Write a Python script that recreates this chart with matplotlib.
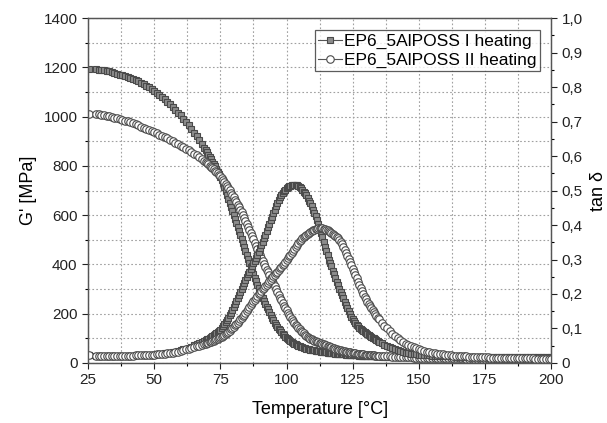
import numpy as np
import matplotlib
matplotlib.use("Agg")
import matplotlib.pyplot as plt
from matplotlib.ticker import MultipleLocator, FuncFormatter

plt.rcParams['font.family'] = ['Liberation Sans', 'DejaVu Sans']

# Temperature [°C]: 25.5, then 28..69 (1 °C), 69.5..135 (0.5 °C), 136..200 (1 °C)
temperature = ([25.5] + list(range(28, 70))
               + [69.5 + 0.5 * i for i in range(132)]
               + list(range(136, 201)))

# Storage modulus G' [MPa], I heating (squares)
g_first = [
    1193,
    1192, 1191, 1190,
    1188, 1186, 1184, 1181, 1178, 1175, 1171, 1168, 1164, 1160,
    1156, 1152, 1147, 1143, 1138, 1132, 1126, 1119, 1112, 1105,
    1097, 1088, 1079, 1070, 1060, 1050, 1040, 1029, 1017, 1005,
    992, 979, 965, 950, 935, 920, 905, 889, 872,
    # 69.5 .. 135 step 0.5
    864, 855, 846, 837, 828, 818, 808, 798, 788, 777,
    766, 755, 743, 730, 714, 698, 682, 665, 649, 633,
    617, 600, 584, 568, 552, 535, 518, 502, 486, 470,
    453, 437, 421, 405, 390, 375, 360, 345, 331, 317,
    303, 290, 277, 264, 252, 240, 228, 217, 206, 195,
    184, 174, 164, 155, 147, 139, 132, 125, 118, 112,
    106, 101, 96, 92, 88, 85, 81, 78, 75, 72,
    69, 67, 65, 63, 61, 60, 58, 57, 55, 54,
    53, 52, 51, 50, 49, 48, 47, 46, 45, 44,
    43, 43, 42, 42, 41, 40, 39, 39, 38, 38,
    37, 37, 36, 36, 35, 35, 34, 34, 33, 33,
    33, 33, 32, 32, 31, 31, 30, 30, 30, 30,
    29, 29, 29, 29, 28, 28, 28, 28, 27, 27,
    27, 27,
    # 136 .. 200
    26, 26, 26, 25, 25,
    25, 24, 24, 24, 23, 23, 23, 22, 22, 22,
    22, 21, 21, 21, 21, 21, 20, 20, 20, 20,
    20, 20, 19, 19, 19, 19, 19, 19, 19, 18,
    18, 18, 18, 18, 18, 18, 18, 17, 17, 17,
    17, 17, 17, 17, 17, 17, 17, 17, 16, 16,
    16, 16, 16, 16, 16, 16, 16, 16, 16, 16,
]

# Storage modulus G' [MPa], II heating (circles)
g_second = [
    1011,
    1010, 1009, 1008,
    1006, 1003, 1001, 998, 996, 993, 990, 987, 984, 981,
    977, 973, 969, 965, 960, 956, 951, 947, 942, 937,
    932, 927, 922, 918, 913, 907, 901, 895, 889, 882,
    876, 870, 863, 857, 850, 843, 835, 827, 819,
    # 69.5 .. 135 step 0.5
    815, 810, 806, 801, 796, 791, 786, 781, 776, 770,
    764, 758, 751, 743, 735, 727, 719, 710, 701, 692,
    683, 673, 663, 653, 643, 633, 623, 612, 601, 590,
    578, 566, 554, 541, 528, 515, 502, 489, 476, 463,
    450, 437, 425, 413, 401, 390, 379, 368, 357, 346,
    335, 324, 312, 300, 288, 276, 265, 254, 243, 233,
    223, 213, 204, 195, 186, 178, 170, 162, 155, 148,
    142, 136, 130, 125, 120, 115, 110, 106, 102, 99,
    96, 93, 90, 88, 85, 83, 81, 79, 77, 75,
    73, 71, 69, 67, 65, 63, 61, 59, 57, 56,
    54, 53, 51, 50, 48, 47, 46, 45, 44, 43,
    42, 41, 40, 39, 38, 37, 36, 36, 35, 35,
    34, 34, 33, 33, 32, 32, 31, 31, 30, 30,
    29, 29,
    # 136 .. 200
    29, 28, 27, 27, 26,
    26, 25, 25, 24, 24, 23, 23, 22, 22, 22,
    21, 21, 21, 21, 20, 20, 20, 20, 20, 20,
    19, 19, 19, 19, 19, 19, 19, 18, 18, 18,
    18, 18, 18, 18, 18, 18, 17, 17, 17, 17,
    17, 17, 17, 17, 16, 16, 16, 16, 16, 16,
    16, 16, 16, 15, 15, 15, 15, 15, 15, 15,
]

# tan delta, I heating (squares)
tan_first = [
    0.022,
    0.021, 0.021, 0.020,
    0.020, 0.020, 0.020, 0.020, 0.020, 0.020, 0.020, 0.021, 0.021, 0.021,
    0.021, 0.021, 0.022, 0.022, 0.022, 0.022, 0.023, 0.023, 0.024, 0.024,
    0.025, 0.026, 0.027, 0.028, 0.029, 0.030, 0.032, 0.033, 0.035, 0.037,
    0.039, 0.041, 0.044, 0.047, 0.051, 0.054, 0.057, 0.061, 0.064,
    # 69.5 .. 135 step 0.5
    0.066, 0.068, 0.070, 0.073, 0.075, 0.078, 0.080, 0.083, 0.086, 0.089,
    0.092, 0.095, 0.100, 0.106, 0.112, 0.118, 0.124, 0.130, 0.138, 0.146,
    0.154, 0.163, 0.171, 0.180, 0.188, 0.197, 0.206, 0.215, 0.223, 0.232,
    0.240, 0.249, 0.257, 0.265, 0.273, 0.281, 0.289, 0.297, 0.305, 0.314,
    0.323, 0.332, 0.342, 0.352, 0.362, 0.372, 0.382, 0.393, 0.403, 0.414,
    0.424, 0.435, 0.445, 0.455, 0.464, 0.473, 0.481, 0.488, 0.494, 0.499,
    0.503, 0.507, 0.510, 0.512, 0.514, 0.515, 0.516, 0.516, 0.516, 0.515,
    0.513, 0.510, 0.506, 0.502, 0.497, 0.492, 0.486, 0.479, 0.471, 0.463,
    0.454, 0.445, 0.435, 0.425, 0.414, 0.403, 0.391, 0.378, 0.364, 0.350,
    0.337, 0.325, 0.312, 0.300, 0.290, 0.280, 0.268, 0.257, 0.246, 0.235,
    0.225, 0.215, 0.205, 0.196, 0.187, 0.178, 0.169, 0.160, 0.151, 0.142,
    0.134, 0.127, 0.121, 0.115, 0.110, 0.106, 0.102, 0.098, 0.095, 0.092,
    0.089, 0.086, 0.083, 0.081, 0.078, 0.076, 0.073, 0.071, 0.068, 0.066,
    0.063, 0.061,
    # 136 .. 200
    0.057, 0.053, 0.050, 0.046, 0.043,
    0.040, 0.037, 0.034, 0.032, 0.030, 0.029, 0.027, 0.026, 0.025, 0.024,
    0.023, 0.023, 0.022, 0.022, 0.021, 0.021, 0.020, 0.020, 0.020, 0.019,
    0.019, 0.019, 0.019, 0.018, 0.018, 0.018, 0.018, 0.018, 0.018, 0.017,
    0.017, 0.017, 0.017, 0.017, 0.017, 0.017, 0.017, 0.017, 0.017, 0.017,
    0.017, 0.017, 0.017, 0.016, 0.016, 0.016, 0.016, 0.016, 0.016, 0.016,
    0.016, 0.016, 0.016, 0.016, 0.016, 0.016, 0.016, 0.016, 0.016, 0.016,
]

# tan delta, II heating (circles)
tan_second = [
    0.022,
    0.021, 0.021, 0.020,
    0.020, 0.020, 0.020, 0.020, 0.020, 0.020, 0.020, 0.021, 0.021, 0.021,
    0.021, 0.021, 0.022, 0.022, 0.022, 0.022, 0.023, 0.023, 0.024, 0.024,
    0.025, 0.025, 0.026, 0.027, 0.028, 0.029, 0.030, 0.032, 0.033, 0.035,
    0.037, 0.039, 0.041, 0.043, 0.046, 0.048, 0.050, 0.053, 0.055,
    # 69.5 .. 135 step 0.5
    0.056, 0.058, 0.059, 0.061, 0.062, 0.064, 0.065, 0.067, 0.068, 0.070,
    0.072, 0.074, 0.076, 0.079, 0.082, 0.085, 0.088, 0.091, 0.094, 0.098,
    0.101, 0.105, 0.109, 0.113, 0.117, 0.122, 0.126, 0.131, 0.135, 0.140,
    0.145, 0.150, 0.156, 0.162, 0.168, 0.174, 0.179, 0.184, 0.189, 0.194,
    0.199, 0.204, 0.209, 0.214, 0.218, 0.223, 0.227, 0.232, 0.237, 0.242,
    0.247, 0.252, 0.256, 0.261, 0.265, 0.270, 0.274, 0.279, 0.283, 0.288,
    0.293, 0.298, 0.303, 0.309, 0.314, 0.320, 0.325, 0.331, 0.336, 0.342,
    0.348, 0.353, 0.358, 0.362, 0.366, 0.369, 0.372, 0.375, 0.378, 0.380,
    0.383, 0.385, 0.387, 0.388, 0.389, 0.390, 0.390, 0.390, 0.390, 0.389,
    0.388, 0.387, 0.385, 0.383, 0.381, 0.378, 0.375, 0.372, 0.369, 0.365,
    0.361, 0.357, 0.352, 0.345, 0.337, 0.329, 0.320, 0.311, 0.302, 0.292,
    0.283, 0.273, 0.264, 0.254, 0.245, 0.235, 0.226, 0.217, 0.208, 0.200,
    0.192, 0.185, 0.178, 0.172, 0.165, 0.159, 0.153, 0.147, 0.141, 0.136,
    0.131, 0.126,
    # 136 .. 200
    0.117, 0.108, 0.100, 0.092, 0.084,
    0.077, 0.071, 0.066, 0.061, 0.056, 0.052, 0.048, 0.045, 0.042, 0.039,
    0.037, 0.035, 0.033, 0.031, 0.029, 0.028, 0.027, 0.026, 0.025, 0.024,
    0.023, 0.022, 0.021, 0.021, 0.020, 0.020, 0.019, 0.019, 0.018, 0.018,
    0.017, 0.017, 0.017, 0.016, 0.016, 0.016, 0.015, 0.015, 0.015, 0.015,
    0.014, 0.014, 0.014, 0.014, 0.014, 0.013, 0.013, 0.013, 0.013, 0.013,
    0.013, 0.013, 0.013, 0.012, 0.012, 0.012, 0.012, 0.012, 0.012, 0.012,
]

label_first = "EP6_5AlPOSS I heating"
label_second = "EP6_5AlPOSS II heating"

fig = plt.figure(figsize=(6.07, 4.23), dpi=100)
ax = fig.add_axes([0.145, 0.142, 0.763, 0.815])
ax2 = ax.twinx()

sq_style = dict(marker='s', markersize=4.8, markerfacecolor='#8c8c8c',
                markeredgecolor='#4a4a4a', markeredgewidth=0.8,
                color='#555555', linewidth=0.8)
ci_style = dict(marker='o', markersize=5.4, markerfacecolor='white',
                markeredgecolor='#4a4a4a', markeredgewidth=0.8,
                color='#555555', linewidth=0.8)

h1, = ax.plot(temperature, g_first, label=label_first, **sq_style)
h2, = ax.plot(temperature, g_second, label=label_second, **ci_style)
ax2.plot(temperature, tan_first, **sq_style)
ax2.plot(temperature, tan_second, **ci_style)

ax.set_xlim(25, 200)
ax.set_ylim(0, 1400)
ax2.set_ylim(0, 1.0)

ax.xaxis.set_major_locator(MultipleLocator(25))
ax.xaxis.set_minor_locator(MultipleLocator(12.5))
ax.yaxis.set_major_locator(MultipleLocator(200))
ax.yaxis.set_minor_locator(MultipleLocator(100))
ax2.yaxis.set_major_locator(MultipleLocator(0.1))
ax2.yaxis.set_minor_locator(MultipleLocator(0.05))

def comma_fmt(v, pos):
    if abs(v) < 1e-9:
        return "0"
    return f"{v:.1f}".replace('.', ',')
ax2.yaxis.set_major_formatter(FuncFormatter(comma_fmt))

ax.grid(True, which='both', linestyle=(0, (1.5, 2)), color='#a0a0a0', linewidth=0.8)
ax.set_axisbelow(True)

for a in (ax, ax2):
    a.tick_params(which='major', direction='out', length=4, width=0.8,
                  labelsize=11, colors='#222222')
    a.tick_params(which='minor', direction='out', length=2.5, width=0.8)
    for s in a.spines.values():
        s.set_color('#555555')
        s.set_linewidth(0.9)

ax.set_xlabel("Temperature [°C]", fontsize=13, labelpad=10)
ax.set_ylabel("G' [MPa]", fontsize=13, labelpad=5)
ax2.set_ylabel("tan δ", fontsize=13, labelpad=5)

leg = ax2.legend([h1, h2], [label_first, label_second], loc='upper right',
                 bbox_to_anchor=(0.976, 0.965), fontsize=12.5, frameon=True,
                 fancybox=False, borderpad=0.2, handlelength=1.4,
                 handletextpad=0.1, labelspacing=0.2, borderaxespad=0)
leg.get_frame().set_edgecolor('#333333')
leg.get_frame().set_linewidth(0.9)

fig.savefig("out.png", dpi=100)
